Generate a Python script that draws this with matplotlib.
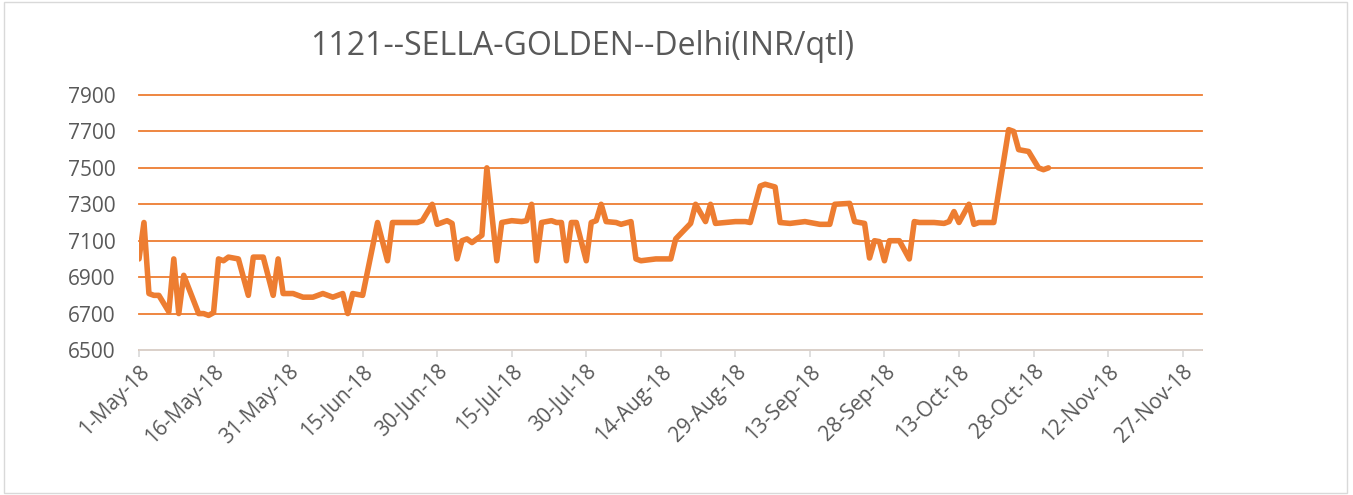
"""1121 Sella Golden rice, Delhi wholesale price (INR/qtl), May-Nov 2018."""

import matplotlib
matplotlib.use("Agg")
import matplotlib.pyplot as plt
import matplotlib.dates as mdates
import pandas as pd
from matplotlib.patches import Rectangle

ORANGE = "#ED7D31"
GREY_TXT = "#595959"
GREY_AX = "#D9D9D9"

# days after 1-May-2018, price in INR/qtl
day_offset = [0, 1, 2, 3, 4, 6, 7, 8, 9, 12, 13, 14, 15, 16, 17, 18, 20, 22, 23, 25,
              27, 28, 29, 31, 33, 35, 37, 39, 41, 42, 43, 45, 48, 50, 51, 56, 57, 59,
              60, 62, 63, 64, 65, 66, 67, 69, 70, 72, 73, 75, 77, 78, 79, 80, 81, 83,
              84, 85, 86, 87, 88, 90, 91, 92, 93, 94, 96, 97, 99, 100, 101, 104, 107,
              108, 111, 112, 114, 115, 116, 120, 122, 123, 125, 126, 128, 129, 131,
              134, 137, 139, 140, 143, 144, 146, 147, 148, 149, 150, 151, 153, 155,
              156, 157, 160, 162, 163, 164, 165, 167, 168, 169, 172, 175, 176, 177,
              179, 181, 182, 183]
price = [7000, 7200, 6810, 6800, 6800, 6710, 7000, 6700, 6910, 6700, 6700, 6690, 6705,
         7000, 6990, 7010, 7000, 6800, 7010, 7010, 6800, 7000, 6810, 6810, 6790, 6790,
         6810, 6790, 6810, 6700, 6810, 6800, 7200, 6990, 7200, 7200, 7210, 7300, 7190,
         7210, 7195, 7000, 7100, 7110, 7090, 7130, 7500, 6990, 7200, 7210, 7205, 7210,
         7300, 6990, 7200, 7210, 7200, 7200, 6990, 7200, 7200, 6990, 7200, 7210, 7300,
         7205, 7200, 7190, 7205, 7000, 6990, 7000, 7000, 7110, 7195, 7300, 7205, 7300,
         7195, 7205, 7205, 7200, 7400, 7410, 7395, 7200, 7195, 7205, 7190, 7190, 7300,
         7305, 7205, 7195, 7005, 7100, 7095, 6990, 7100, 7100, 7000, 7205, 7200, 7200,
         7195, 7205, 7260, 7200, 7300, 7190, 7200, 7200, 7710, 7700, 7600, 7590, 7500,
         7490, 7500]

y_ticks = [6500, 6700, 6900, 7100, 7300, 7500, 7700, 7900]
start = pd.Timestamp("2018-05-01")
dates = start + pd.to_timedelta(day_offset, unit="D")
x_ticks = pd.date_range(start, periods=15, freq="15D")

plt.rcParams["font.family"] = ["Open Sans", "DejaVu Sans"]

fig = plt.figure(figsize=(13.53, 4.95), dpi=100)
ax = fig.add_axes([139 / 1353, 1 - 350 / 495, 1063 / 1353, 255 / 495])

ax.plot(dates, price, color=ORANGE, lw=4.0, solid_joinstyle="round",
        solid_capstyle="round", zorder=3)

ax.set_ylim(6500, 7900)
ax.set_yticks(y_ticks)
ax.set_xlim(start, start + pd.Timedelta(days=213.9))
ax.set_xticks(x_ticks)
ax.xaxis.set_major_formatter(mdates.DateFormatter("%-d-%b-%y"))
ax.grid(axis="y", color=ORANGE, lw=1.3, zorder=1)
for gl in ax.get_ygridlines():
    gl.set_clip_on(False)
ax.set_axisbelow(True)

for s in ("top", "right", "left"):
    ax.spines[s].set_visible(False)
ax.spines["bottom"].set_color(GREY_AX)
ax.spines["bottom"].set_linewidth(1.3)
ax.spines["bottom"].set_zorder(2)
ax.tick_params(axis="y", length=0, labelsize=15, labelcolor=GREY_TXT, pad=17)
ax.tick_params(axis="x", length=5, width=1.2, color=GREY_AX, labelsize=15,
               labelcolor=GREY_TXT, pad=3)
plt.setp(ax.get_xticklabels(), rotation=45, ha="right", rotation_mode="anchor")

fig.text(0.43, 0.907, "1121--SELLA-GOLDEN--Delhi(INR/qtl)", ha="center", va="center",
         fontsize=23, color=GREY_TXT)

fig.patches.append(Rectangle((4 / 1353, 2 / 495), 1343 / 1353, 491 / 495,
                             transform=fig.transFigure, fill=False,
                             edgecolor=GREY_AX, lw=1.0))

fig.savefig("out.png", dpi=100)
